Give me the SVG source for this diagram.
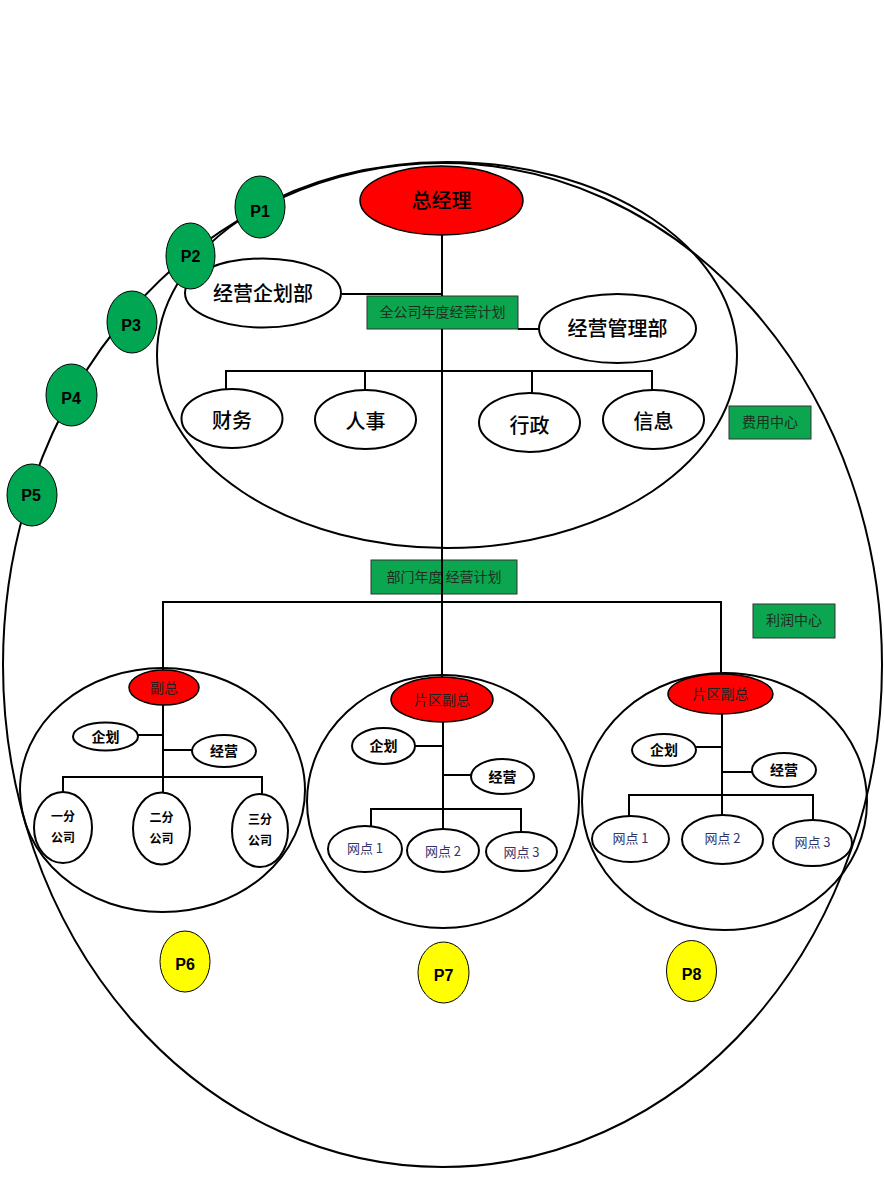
<svg xmlns="http://www.w3.org/2000/svg" width="884" height="1200" viewBox="0 0 884 1200">
<style>
.c{fill:none;stroke:#000;stroke-width:2}
.n{fill:#fff;stroke:#000;stroke-width:2}
.r{fill:#ff0000;stroke:#000;stroke-width:1.5}
.g{fill:#0ba64f;stroke:#333;stroke-width:1}
.pg{fill:#00a651;stroke:#000;stroke-width:1}
.py{fill:#ffff00;stroke:#000;stroke-width:1}
.l{fill:none;stroke:#000;stroke-width:2}
text{font-family:"Noto Sans CJK SC","Liberation Sans",sans-serif;text-anchor:middle;fill:#000}
.big{font-size:20px;font-weight:500}
.box{font-size:14px;fill:#1e2e1e}
.sm{font-size:14px;font-weight:bold}
.xs{font-size:12px;font-weight:bold}
.red{font-size:14px;fill:#222}
.wd{font-size:13px;fill:#34346a}
.p{font-family:"Liberation Sans",sans-serif;font-size:16px;font-weight:bold}
</style>
<g id="outer"><ellipse class="c" cx="442.5" cy="665" rx="439.5" ry="502"/></g>
<g id="cost-area"><ellipse class="c" cx="447" cy="355" rx="290" ry="193"/></g>
<g id="area-left"><ellipse class="c" cx="162.5" cy="790" rx="142.5" ry="122"/></g>
<g id="area-mid"><ellipse class="c" cx="443" cy="801.5" rx="136" ry="126.5"/></g>
<g id="area-right"><ellipse class="c" cx="724.5" cy="801.5" rx="142.5" ry="128.5"/></g>

<g id="gm"><ellipse class="r" cx="441.5" cy="200.5" rx="81.5" ry="34.5"/><text class="big" x="441.5" y="208">总经理</text></g>
<g id="planning-dept"><ellipse class="n" cx="263" cy="293" rx="78" ry="34.5"/><text class="big" x="263" y="301">经营企划部</text></g>
<g id="company-plan"><rect class="g" x="367" y="296" width="151" height="33"/><text class="box" x="442.5" y="317">全公司年度经营计划</text></g>
<g id="mgmt-dept"><ellipse class="n" cx="617.5" cy="328.5" rx="78.5" ry="34.5"/><text class="big" x="617.5" y="336">经营管理部</text></g>
<g id="finance"><ellipse class="n" cx="232" cy="418.5" rx="50.5" ry="29.5"/><text class="big" x="232" y="428">财务</text></g>
<g id="hr"><ellipse class="n" cx="365.5" cy="419.5" rx="50.5" ry="29.5"/><text class="big" x="365.5" y="429">人事</text></g>
<g id="admin"><ellipse class="n" cx="529.5" cy="422.5" rx="50.5" ry="29.5"/><text class="big" x="529.5" y="433">行政</text></g>
<g id="info"><ellipse class="n" cx="653.5" cy="419.5" rx="50.5" ry="29.5"/><text class="big" x="653.5" y="429">信息</text></g>
<g id="cost-center"><rect class="g" x="729" y="406" width="82" height="33"/><text class="box" x="770" y="427">费用中心</text></g>
<g id="dept-plan"><rect class="g" x="371" y="560" width="146" height="34"/><text class="box" x="444" y="582">部门年度 经营计划</text></g>
<g id="profit-center"><rect class="g" x="753" y="604" width="82" height="34"/><text class="box" x="794" y="625">利润中心</text></g>

<g id="vp-left"><ellipse class="r" cx="164" cy="687.5" rx="35" ry="17.5"/><text class="red" x="164" y="692.5">副总</text></g>
<g id="l-plan"><ellipse class="n" cx="105.5" cy="736.5" rx="32.5" ry="14"/><text class="sm" x="105.5" y="741.5">企划</text></g>
<g id="l-ops"><ellipse class="n" cx="224" cy="751" rx="32" ry="16"/><text class="sm" x="224" y="756">经营</text></g>
<g id="sub1"><ellipse class="n" cx="63" cy="827.5" rx="29" ry="35.5"/><text class="xs" x="63" y="821">一分</text><text class="xs" x="63" y="842">公司</text></g>
<g id="sub2"><ellipse class="n" cx="161.5" cy="828.5" rx="28.5" ry="36"/><text class="xs" x="161.5" y="822">二分</text><text class="xs" x="161.5" y="843">公司</text></g>
<g id="sub3"><ellipse class="n" cx="260" cy="830.5" rx="28" ry="36.5"/><text class="xs" x="260" y="824">三分</text><text class="xs" x="260" y="845">公司</text></g>

<g id="vp-mid"><ellipse class="r" cx="442" cy="699.5" rx="51" ry="22.5"/><text class="red" x="442" y="704.5">片区副总</text></g>
<g id="m-plan"><ellipse class="n" cx="383.5" cy="746" rx="31.5" ry="18"/><text class="sm" x="383.5" y="751">企划</text></g>
<g id="m-ops"><ellipse class="n" cx="502.5" cy="776.5" rx="31.5" ry="17.5"/><text class="sm" x="502.5" y="781.5">经营</text></g>
<g id="m-pt1"><ellipse class="n" cx="365" cy="849" rx="37" ry="23"/><text class="wd" x="365" y="853">网点 1</text></g>
<g id="m-pt2"><ellipse class="n" cx="443" cy="850.5" rx="36" ry="21.5"/><text class="wd" x="443" y="855.5">网点 2</text></g>
<g id="m-pt3"><ellipse class="n" cx="521.5" cy="851.5" rx="35.5" ry="19.5"/><text class="wd" x="521.5" y="856.5">网点 3</text></g>

<g id="vp-right"><ellipse class="r" cx="720.5" cy="694" rx="52.5" ry="20"/><text class="red" x="720.5" y="699">片区副总</text></g>
<g id="r-plan"><ellipse class="n" cx="664" cy="750" rx="32" ry="16"/><text class="sm" x="664" y="755">企划</text></g>
<g id="r-ops"><ellipse class="n" cx="784" cy="770" rx="32" ry="17"/><text class="sm" x="784" y="775">经营</text></g>
<g id="r-pt1"><ellipse class="n" cx="630.5" cy="839" rx="38.5" ry="23"/><text class="wd" x="630.5" y="843">网点 1</text></g>
<g id="r-pt2"><ellipse class="n" cx="722.5" cy="839.5" rx="40.5" ry="24.5"/><text class="wd" x="722.5" y="843">网点 2</text></g>
<g id="r-pt3"><ellipse class="n" cx="812.5" cy="843" rx="39.5" ry="23"/><text class="wd" x="812.5" y="847">网点 3</text></g>

<g id="connectors">
<path class="l" d="M442 235V296M342 294H443M518 329H540M442 329V677"/>
<path class="l" d="M226 390V371H652V390M365 371V390M532 371V393"/>
<path class="l" d="M163 670V602H721V674"/>
<path class="l" d="M163 705V777M138 735H163M163 750H192M63 792V777H262V794M163 777V792"/>
<path class="l" d="M443 722V829M415 746H443M443 775H471M371 826V809H521V832"/>
<path class="l" d="M722 714V815M696 747H722M722 772H752M629 816V795H813V820"/>
</g>

<g id="p1"><ellipse class="pg" cx="260" cy="207" rx="25" ry="31"/><text class="p" x="260" y="217">P1</text></g>
<g id="p2"><ellipse class="pg" cx="190.5" cy="256" rx="24.5" ry="33"/><text class="p" x="190.5" y="262">P2</text></g>
<g id="p3"><ellipse class="pg" cx="132" cy="322" rx="25" ry="31"/><text class="p" x="131" y="331">P3</text></g>
<g id="p4"><ellipse class="pg" cx="71.5" cy="395" rx="25.5" ry="31"/><text class="p" x="71" y="404">P4</text></g>
<g id="p5"><ellipse class="pg" cx="32" cy="495" rx="25" ry="31"/><text class="p" x="31" y="501">P5</text></g>
<g id="p6"><ellipse class="py" cx="185" cy="961.5" rx="25" ry="30.5"/><text class="p" x="185" y="970">P6</text></g>
<g id="p7"><ellipse class="py" cx="443.5" cy="972.5" rx="25.5" ry="30.5"/><text class="p" x="443.5" y="981">P7</text></g>
<g id="p8"><ellipse class="py" cx="691.5" cy="971" rx="25" ry="30.5"/><text class="p" x="691.5" y="980">P8</text></g>
</svg>
